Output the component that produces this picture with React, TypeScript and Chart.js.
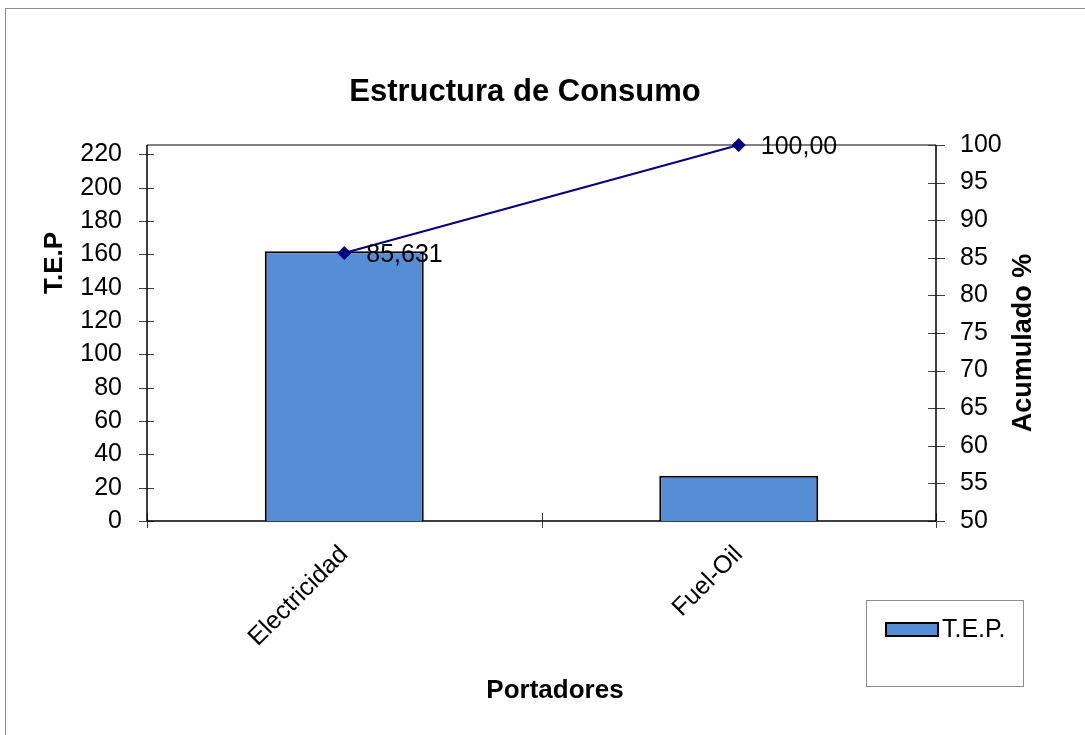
import React, { useEffect, useRef } from "react";
import { Chart, registerables } from "chart.js";

Chart.register(...registerables);

// ---- data ----
const categories = ["Electricidad", "Fuel-Oil"];
const tepValues = [161.8, 27.15];
const acumuladoValues = [85.631, 100.0];
const acumuladoLabels = ["85,631", "100,00"];
const chartTitle = "Estructura de Consumo";
const xTitle = "Portadores";
const yTitle = "T.E.P";
const y1Title = "Acumulado %";
const barLabel = "T.E.P.";
const lineLabel = "Acumulado %";

const FONT = '"Liberation Sans", Arial, sans-serif';
const BAR_COLOR = "#558ED5";
const LINE_COLOR = "#000080";

const decorPlugin = {
  id: "decor",
  beforeDraw(chart: any) {
    const { ctx, width, height } = chart;
    ctx.save();
    ctx.fillStyle = "#ffffff";
    ctx.fillRect(0, 0, width, height);
    ctx.strokeStyle = "#8c8c8c";
    ctx.lineWidth = 1;
    ctx.strokeRect(5.5, 8.5, width + 20, height + 20);
    ctx.restore();
  },
  beforeDatasetsDraw(chart: any) {
    const { ctx, chartArea } = chart;
    const { left, right, top, bottom } = chartArea;
    const xs = chart.scales.x;
    const ys = chart.scales.y;
    const y1 = chart.scales.y1;
    ctx.save();
    // top border (gray)
    ctx.strokeStyle = "#808080";
    ctx.lineWidth = 2;
    ctx.beginPath();
    ctx.moveTo(left, top);
    ctx.lineTo(right, top);
    ctx.stroke();
    // ticks
    ctx.strokeStyle = "#404040";
    ctx.lineWidth = 1;
    ctx.beginPath();
    ys.ticks.forEach((t: any) => {
      const p = Math.round(ys.getPixelForValue(t.value)) + 0.5;
      ctx.moveTo(left - 8, p);
      ctx.lineTo(left + 7, p);
    });
    y1.ticks.forEach((t: any) => {
      const p = Math.round(y1.getPixelForValue(t.value)) + 0.5;
      ctx.moveTo(right - 8, p);
      ctx.lineTo(right + 9, p);
    });
    for (let i = 0; i <= categories.length; i++) {
      const p = Math.round(xs.getPixelForValue(i - 0.5)) + 0.5;
      ctx.moveTo(p, bottom - 8);
      ctx.lineTo(p, bottom + 7);
    }
    ctx.stroke();
    // axes (black)
    ctx.strokeStyle = "#000000";
    ctx.lineWidth = 1.5;
    ctx.beginPath();
    ctx.moveTo(left, top);
    ctx.lineTo(left, bottom);
    ctx.lineTo(right, bottom);
    ctx.moveTo(right, top);
    ctx.lineTo(right, bottom);
    ctx.stroke();
    ctx.restore();
  },
  afterDraw(chart: any) {
    const { ctx } = chart;
    const xs = chart.scales.x;
    const y1 = chart.scales.y1;
    ctx.save();
    // point labels
    ctx.fillStyle = "#000000";
    ctx.font = `25px ${FONT}`;
    ctx.textAlign = "left";
    ctx.textBaseline = "middle";
    acumuladoValues.forEach((v, i) => {
      const px = xs.getPixelForValue(i);
      const py = y1.getPixelForValue(v);
      ctx.fillText(acumuladoLabels[i], px + 22, py + 2);
    });
    // chart title
    ctx.font = `bold 31px ${FONT}`;
    ctx.textAlign = "center";
    ctx.textBaseline = "alphabetic";
    ctx.fillText(chartTitle, 525, 101);
    // x title
    ctx.font = `bold 26px ${FONT}`;
    ctx.fillText(xTitle, 555, 698);
    // y title
    ctx.save();
    ctx.translate(62, 263);
    ctx.rotate(-Math.PI / 2);
    ctx.fillText(yTitle, 0, 0);
    ctx.restore();
    // y1 title
    ctx.save();
    ctx.font = `bold 27px ${FONT}`;
    ctx.translate(1031, 343);
    ctx.rotate(-Math.PI / 2);
    ctx.fillText(y1Title, 0, 0);
    ctx.restore();
    // legend
    ctx.strokeStyle = "#8c8c8c";
    ctx.lineWidth = 1;
    ctx.strokeRect(866.5, 600.5, 157, 86);
    ctx.fillStyle = BAR_COLOR;
    ctx.fillRect(886, 623, 52, 13);
    ctx.strokeStyle = "#000000";
    ctx.lineWidth = 2;
    ctx.strokeRect(886, 623, 52, 13);
    ctx.fillStyle = "#000000";
    ctx.font = `25px ${FONT}`;
    ctx.textAlign = "left";
    ctx.textBaseline = "middle";
    ctx.fillText(barLabel, 942, 630);
    ctx.restore();
  },
};

export default function App() {
  const canvasRef = useRef<HTMLCanvasElement | null>(null);

  useEffect(() => {
    const canvas = canvasRef.current;
    if (!canvas) return;
    const W = 1085;
    const H = 735;
    const chart = new Chart(canvas, {
      type: "bar",
      data: {
        labels: categories,
        datasets: [
          {
            type: "line",
            label: lineLabel,
            data: acumuladoValues,
            yAxisID: "y1",
            borderColor: LINE_COLOR,
            backgroundColor: LINE_COLOR,
            borderWidth: 2,
            pointStyle: "rectRot",
            pointRadius: 6.5,
            pointBorderWidth: 1,
            pointBackgroundColor: LINE_COLOR,
            pointBorderColor: LINE_COLOR,
            tension: 0,
            clip: false,
            order: 0,
          } as any,
          {
            type: "bar",
            label: barLabel,
            data: tepValues,
            yAxisID: "y",
            backgroundColor: BAR_COLOR,
            borderColor: "#000000",
            borderWidth: 2,
            barPercentage: 0.403,
            categoryPercentage: 1,
            order: 1,
          },
        ],
      },
      options: {
        responsive: false,
        animation: false,
        layout: { padding: { top: 145, left: 0, right: 0, bottom: 0 } },
        plugins: {
          legend: { display: false },
          title: { display: false },
          tooltip: { enabled: false },
        },
        scales: {
          x: {
            type: "category",
            offset: true,
            grid: { display: false, drawTicks: false },
            border: { display: false },
            ticks: {
              font: { family: FONT, size: 25 },
              color: "#000000",
              minRotation: 45,
              maxRotation: 45,
              padding: 19,
              autoSkip: false,
            },
            afterFit: (s: any) => {
              s.height = H - 521;
            },
          },
          y: {
            type: "linear",
            position: "left",
            min: 0,
            max: 225.6,
            grid: { display: false, drawTicks: false },
            border: { display: false },
            ticks: {
              stepSize: 20,
              includeBounds: false,
              font: { family: FONT, size: 25 },
              color: "#000000",
              padding: 25,
            },
            afterFit: (s: any) => {
              s.width = 147;
            },
          },
          y1: {
            type: "linear",
            position: "right",
            min: 50,
            max: 100,
            grid: { display: false, drawTicks: false },
            border: { display: false },
            ticks: {
              stepSize: 5,
              includeBounds: false,
              font: { family: FONT, size: 25 },
              color: "#000000",
              padding: 24,
            },
            afterFit: (s: any) => {
              s.width = W - 936;
            },
          },
        },
      } as any,
      plugins: [decorPlugin],
    });
    return () => chart.destroy();
  }, []);

  return (
    <div style={{ position: "absolute", left: 0, top: 0, width: 1085, height: 735 }}>
      <canvas ref={canvasRef} width={1085} height={735} style={{ display: "block" }} />
    </div>
  );
}
